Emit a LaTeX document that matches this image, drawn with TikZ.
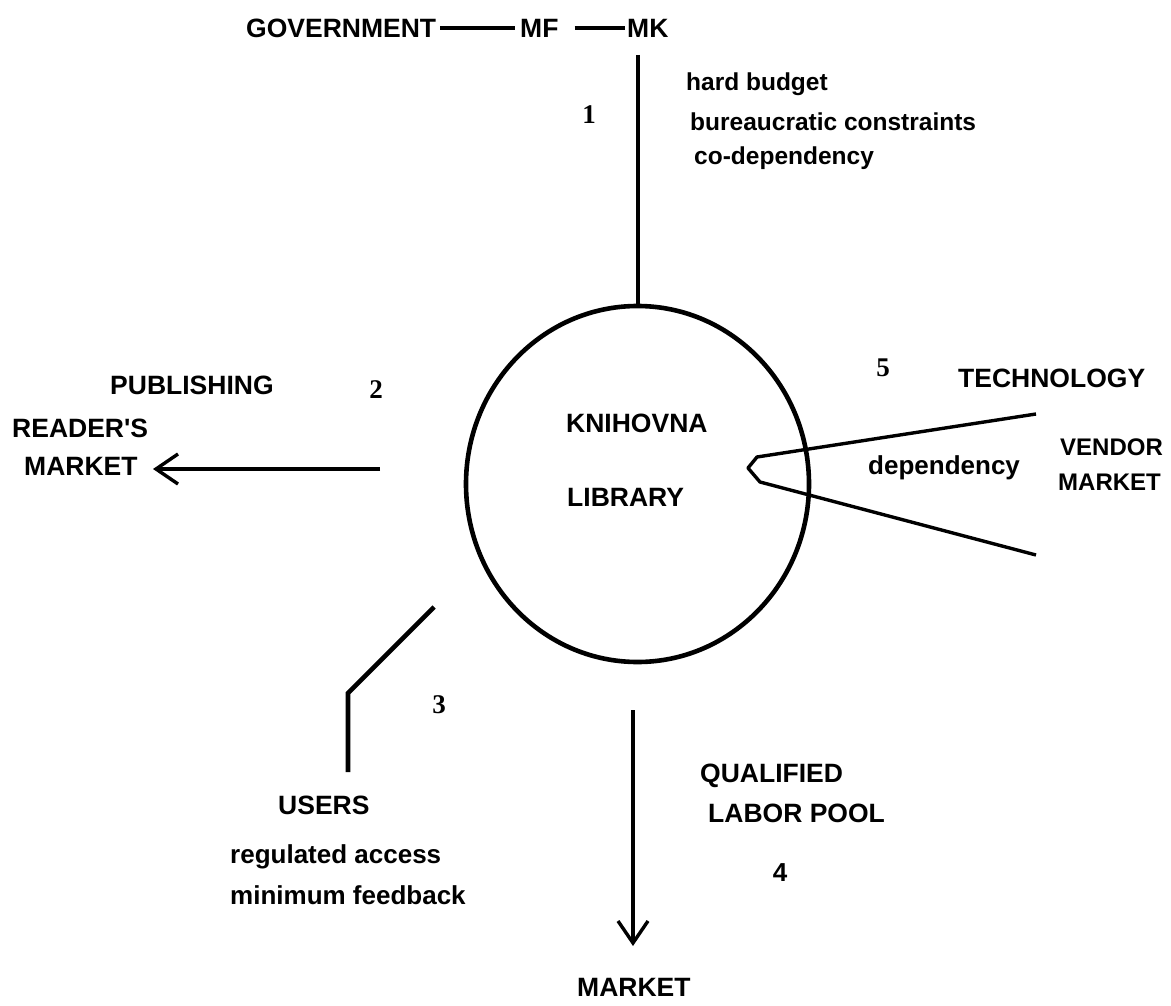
\documentclass[tikz,border=0pt]{standalone}
\usepackage{fontspec}
\setmainfont{Liberation Sans}
\newfontfamily\numfont{Liberation Serif}
\usetikzlibrary{shapes.geometric,arrows.meta}
\begin{document}
\begin{tikzpicture}[x=1pt,y=-1pt,
  lbl/.style={font=\fontsize{26}{30}\selectfont\bfseries, inner sep=0pt, anchor=west},
  lbls/.style={font=\fontsize{24.5}{28}\selectfont\bfseries, inner sep=0pt, anchor=west},
  capl/.style={font=\fontsize{26.5}{30}\selectfont\bfseries, inner sep=0pt, anchor=west},
  caps/.style={font=\fontsize{24}{28}\selectfont\bfseries, inner sep=0pt, anchor=west},
  num/.style={font=\numfont\fontsize{27}{31}\selectfont\bfseries, inner sep=0pt},
  ln/.style={line width=4.6pt},
  thinl/.style={line width=3.4pt},
  arr/.style={line width=3.2pt, -{Straight Barb[length=22pt,width=30pt,line width=3.4pt]}}]
\useasboundingbox (0,0) rectangle (1171,1006);
% top chain
\node[capl] (gov) at (246,28) {GOVERNMENT};
\node[capl] (mf) at (520,28) {MF};
\node[capl] (mk) at (627,28) {MK};
\draw[ln, shorten <=4pt, shorten >=5pt] (gov.east) -- (mf.west);
\draw[ln, shorten <=16pt, shorten >=2pt] (mf.east) -- (mk.west);
% library circle
\node[draw, ellipse, line width=4.6pt, minimum width=343pt, minimum height=356pt, inner sep=0pt] (lib) at (637.5,484) {};
\node[capl] (kn) at (566,423) {KNIHOVNA};
\node[capl] (li) at (567,497) {LIBRARY};
\coordinate (mkb) at (638,55);
\draw[ln] (mkb) -- (lib.north -| mkb);
% 1
\node[num] (n1) at (589,115) {1};
\node[lbls] (hb) at (686,84) {hard budget};
\node[lbls] (bc) at (690,122) {bureaucratic constraints};
\node[lbls] (cd) at (694,158) {co-dependency};
% 2
\node[capl] (pub) at (110,385) {PUBLISHING};
\node[num] (n2) at (376,390) {2};
\node[capl] (rm1) at (12,428) {READER{\addfontfeature{Ligatures=TeXOff}'}S};
\node[capl] (rm2) at (24,466) {MARKET};
\coordinate (a2s) at (380,469);
\coordinate (a2e) at (153,469);
\draw[arr] (a2s) -- (a2e);
% 3
\coordinate (u1) at (434,607);
\coordinate (u2) at (348,693);
\node[capl] (users) at (278,805) {USERS};
\coordinate (u3) at (348,772);
\draw[ln, line join=miter] (u1) -- (u2) -- (u3);
\node[num] (n3) at (439,705) {3};
\node[lbl] (ra) at (230,857) {regulated access};
\node[lbl] (mfb) at (230,895) {minimum feedback};
% 4
\node[capl] (mkt) at (577,987) {MARKET};
\coordinate (a4s) at (633,710);
\coordinate (a4e) at (633,946);
\draw[arr] (a4s) -- (a4e);
\node[capl] (qual) at (700,776) {QUALIFIED};
\node[capl] (lab) at (708,813) {LABOR POOL};
\node[lbl, anchor=center] (n4) at (780,873) {4};
% 5
\node[num] (n5) at (883,368) {5};
\node[capl] (tech) at (958,378) {TECHNOLOGY};
\node[lbl] (dep) at (868,468) {dependency};
\node[caps] (vend) at (1060,447) {VENDOR};
\node[caps] (vm) at (1058,482) {MARKET};
\coordinate (w1) at (1036,414);
\coordinate (w2) at (757,457);
\coordinate (w3) at (748,468);
\coordinate (w4) at (760,482);
\coordinate (w5) at (1036,555);
\draw[thinl, line join=round] (w1) -- (w2) -- (w3) -- (w4) -- (w5);
\end{tikzpicture}
\end{document}
